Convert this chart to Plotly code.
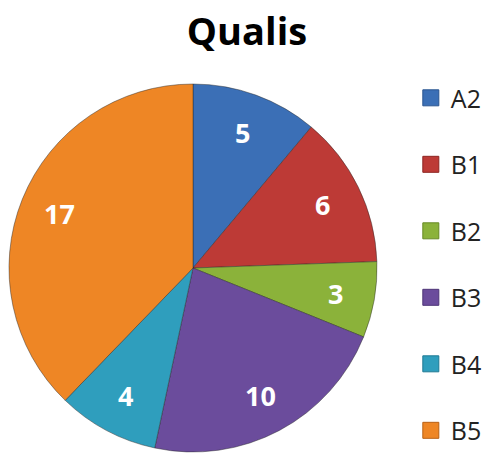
import math
import plotly.graph_objects as go

labels = ["A2", "B1", "B2", "B3", "B4", "B5"]
values = [5, 6, 3, 10, 4, 17]
colors = ["#3B6FB6", "#BD3A36", "#8BB23A", "#6B4C9C", "#2F9EBD", "#EE8625"]
edge = ["#2A5590", "#8E2522", "#678A25", "#4E3577", "#1F7A93", "#B86014"]

W, H = 492, 455
CX, CY, R = 193, 268, 184  # pie centre / radius in px (layout)

fig = go.Figure()
fig.add_trace(go.Pie(
    labels=labels, values=values, sort=False, direction="clockwise", rotation=0,
    marker=dict(colors=colors, line=dict(color="rgba(40,40,40,0.45)", width=1)),
    textinfo="none",
    domain=dict(x=[(CX - R) / W, (CX + R) / W], y=[(H - CY - R) / H, (H - CY + R) / H]),
    showlegend=False, hoverinfo="label+value",
))

# value labels placed near the rim, angle derived from the data
total = sum(values)
cum = 0
for v in values:
    mid = (cum + v / 2) / total * 2 * math.pi
    cum += v
    r = 0.785 * R
    fig.add_annotation(
        x=(CX + r * math.sin(mid)) / W, y=(H - CY + r * math.cos(mid)) / H,
        xref="paper", yref="paper", xanchor="center", yanchor="middle",
        text=f"<b>{v}</b>", showarrow=False,
        font=dict(family="Open Sans", size=27, color="white"),
    )

for i, lab in enumerate(labels):
    fig.add_trace(go.Scatter(
        x=[None], y=[None], mode="markers", name=lab, legendgroup=lab,
        marker=dict(symbol="square", size=18, color=colors[i], line=dict(color=edge[i], width=1)),
    ))

fig.update_layout(
    width=W, height=H, margin=dict(l=0, r=0, t=0, b=0),
    paper_bgcolor="white", plot_bgcolor="white",
    title=dict(text="<b>Qualis</b>", x=247 / W, xanchor="center", y=1 - 32 / H, yanchor="middle",
               font=dict(family="Open Sans", size=38, color="black")),
    xaxis=dict(visible=False), yaxis=dict(visible=False),
    legend=dict(x=0.835, y=0.835, xanchor="left", yanchor="top", tracegroupgap=31,
                font=dict(family="Open Sans", size=25, color="#222"), itemsizing="trace"),
)
fig.write_html("out.html", config={"displayModeBar": False},
               post_script="document.body.style.margin='0';")
